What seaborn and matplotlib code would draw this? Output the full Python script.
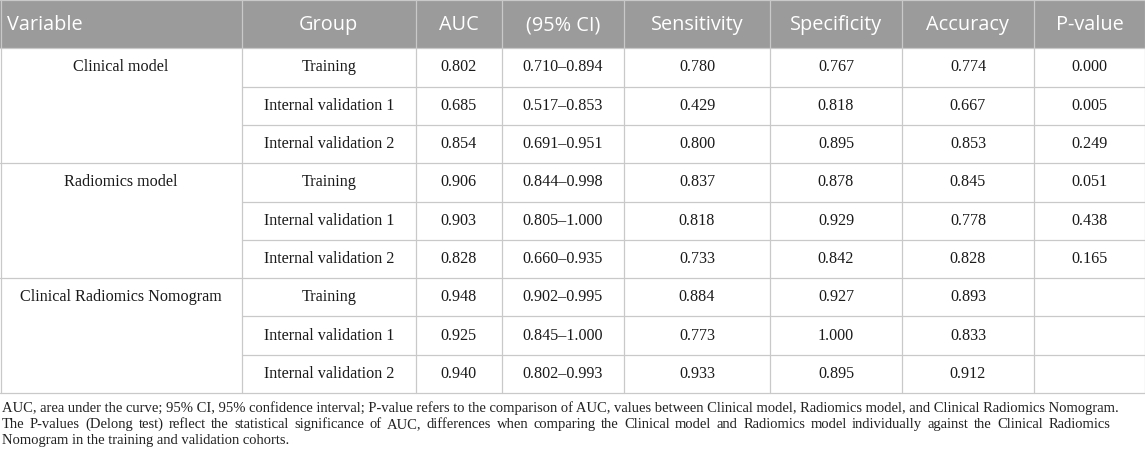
import matplotlib
matplotlib.use("Agg")
import matplotlib.pyplot as plt
import seaborn as sns

# Table content
header = ["Variable", "Group", "AUC", "(95% CI)", "Sensitivity", "Specificity", "Accuracy", "P-value"]
variables = ["Clinical model", "Radiomics model", "Clinical Radiomics Nomogram"]
groups = ["Training", "Internal validation 1", "Internal validation 2"] * 3
auc = ["0.802", "0.685", "0.854", "0.906", "0.903", "0.828", "0.948", "0.925", "0.940"]
ci = ["0.710–0.894", "0.517–0.853", "0.691–0.951",
      "0.844–0.998", "0.805–1.000", "0.660–0.935",
      "0.902–0.995", "0.845–1.000", "0.802–0.993"]
sensitivity = ["0.780", "0.429", "0.800", "0.837", "0.818", "0.733", "0.884", "0.773", "0.933"]
specificity = ["0.767", "0.818", "0.895", "0.878", "0.929", "0.842", "0.927", "1.000", "0.895"]
accuracy = ["0.774", "0.667", "0.853", "0.845", "0.778", "0.828", "0.893", "0.833", "0.912"]
p_values = ["0.000", "0.005", "0.249", "0.051", "0.438", "0.165", "", "", ""]

footnote = [
    "AUC, area under the curve; 95% CI, 95% confidence interval; P-value refers to the comparison of AUC, "
    "values between Clinical model, Radiomics model, and Clinical Radiomics Nomogram.",
    "The P-values (Delong test) reflect the statistical significance of AUC, differences when comparing the "
    "Clinical model and Radiomics model individually against the Clinical Radiomics",
    "Nomogram in the training and validation cohorts.",
]

sns.set_theme(style="white")
plt.rcParams["font.family"] = ["Liberation Serif", "DejaVu Serif"]

W, H = 1145, 461
fig = plt.figure(figsize=(W / 100, H / 100), dpi=100)
ax = fig.add_axes([0, 0, 1, 1])
ax.set_xlim(0, W)
ax.set_ylim(H, 0)
ax.axis("off")
renderer = fig.canvas.get_renderer()

# layout in pixels
col_x = [0, 242, 415.5, 501.5, 624, 770, 902, 1034, 1145]
header_h = 48.3
row_h = 38.3
n_rows = len(groups)
table_bottom = header_h + n_rows * row_h
grid_color = "#c9c9c9"
head_color = "#9b9b9b"

# header background
ax.add_patch(plt.Rectangle((0, 0), W, header_h, color=head_color, lw=0, zorder=0))
for i, label in enumerate(header):
    if i == 0:
        ax.text(col_x[0] + 7, header_h / 2 + 1, label, ha="left", va="center",
                color="white", fontsize=14.3, family="Open Sans")
    else:
        ax.text((col_x[i] + col_x[i + 1]) / 2, header_h / 2 + 1, label, ha="center", va="center",
                color="white", fontsize=14.3, family="Open Sans")

# vertical grid lines
for x in col_x:
    xx = min(max(x, 0.5), W - 0.5)
    ax.plot([xx, xx], [0, table_bottom], color=grid_color, lw=0.9, zorder=1)
ax.plot([0, W], [0.5, 0.5], color=grid_color, lw=0.9, zorder=1)

# horizontal grid lines (the Variable column only splits between models)
for r in range(n_rows + 1):
    y = header_h + r * row_h
    x_start = 0 if r % 3 == 0 else col_x[1]
    ax.plot([x_start, W], [y, y], color=grid_color, lw=0.9, zorder=1)

# body
columns = [groups, auc, ci, sensitivity, specificity, accuracy, p_values]
body_kw = dict(ha="center", va="center", color="#1a1a1a", fontsize=11.6)
for r in range(n_rows):
    yc = header_h + (r + 0.5) * row_h
    if r % 3 == 0:
        ax.text((col_x[0] + col_x[1]) / 2, yc, variables[r // 3], **body_kw)
    for c, values in enumerate(columns):
        ax.text((col_x[c + 1] + col_x[c + 2]) / 2, yc, values[r], **body_kw)

# footnote: size the font so the first line fills the width, justify the second line
probe = ax.text(0, 0, footnote[0], fontsize=10)
natural = probe.get_window_extent(renderer).width
probe.remove()
foot_size = 10 * (1126 / natural)

foot_kw = dict(va="center", ha="left", color="#222222", fontsize=foot_size)
foot_y = [408.5, 424.5, 440.5]
right_edge = [None, 1110, None]
for line, y, right in zip(footnote, foot_y, right_edge):
    if right is None:
        ax.text(2, y, line, **foot_kw)
        continue
    words = line.split(" ")
    texts = [ax.text(0, y, w, **foot_kw) for w in words]
    widths = [t.get_window_extent(renderer).width for t in texts]
    gap = (right - 2 - sum(widths)) / (len(words) - 1)
    x = 2
    for t, w in zip(texts, widths):
        t.set_x(x)
        x += w + gap

fig.savefig("out.png", dpi=100)
